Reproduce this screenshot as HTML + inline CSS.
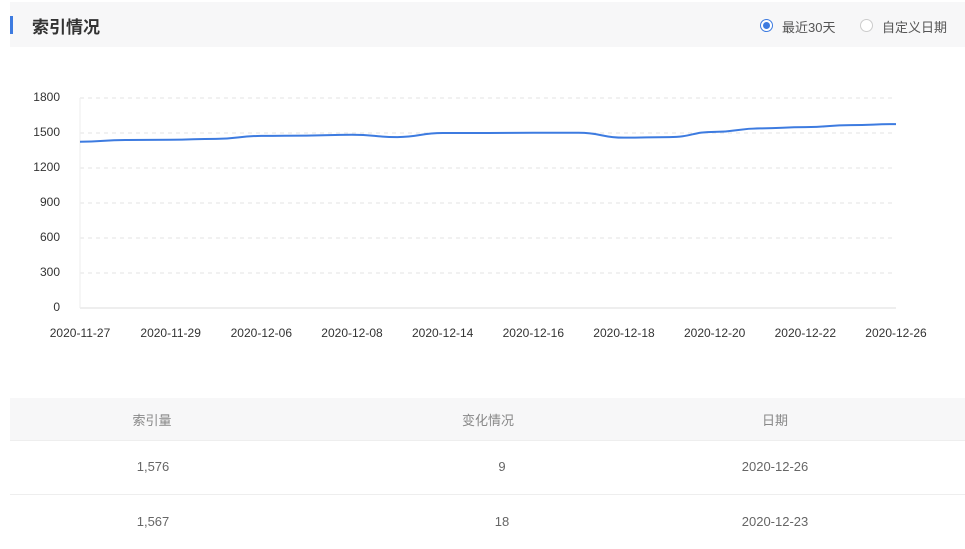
<!DOCTYPE html>
<html><head><meta charset="utf-8"><style>
body{margin:0;width:965px;height:549px;background:#fff;font-family:"Liberation Sans","Noto Sans CJK SC",sans-serif;position:relative;overflow:hidden}
.abs{position:absolute}
.hdr{left:10px;top:2px;width:955px;height:45px;background:#f7f7f8}
.bar{left:10px;top:16px;width:3px;height:18px;background:#3d7be0}
.title{left:32px;top:13px;font-size:17px;font-weight:bold;color:#333}
.radio{top:19px;width:13px;height:13px;border-radius:50%;border:1px solid #ccc;background:#fff;box-sizing:border-box}
.rl{top:17px;font-size:13px;color:#555}
.th{top:398px;left:10px;width:955px;height:42px;background:#f7f7f8;border-bottom:1px solid #eee}
.cell{font-size:13px;color:#666;transform:translateX(-50%)}
.line{left:10px;width:955px;height:1px;background:#eee}
</style></head><body>
<div class="abs hdr"></div>
<div class="abs bar"></div>
<div class="abs title">索引情况</div>
<div class="abs radio" style="left:760px;border-color:#3d7be0"><div style="width:7px;height:7px;border-radius:50%;background:#3d7be0;margin:2px"></div></div>
<div class="abs rl" style="left:782px">最近30天</div>
<div class="abs radio" style="left:860px"></div>
<div class="abs rl" style="left:882px">自定义日期</div>

<svg class="abs" style="left:0;top:0" width="965" height="360" id="chart"></svg>

<div class="abs th"></div>
<div class="abs cell" style="left:152px;top:410px;color:#888">索引量</div>
<div class="abs cell" style="left:488px;top:410px;color:#888">变化情况</div>
<div class="abs cell" style="left:775px;top:410px;color:#888">日期</div>
<div class="abs cell" style="left:153px;top:459px">1,576</div>
<div class="abs cell" style="left:502px;top:459px">9</div>
<div class="abs cell" style="left:775px;top:459px">2020-12-26</div>
<div class="abs line" style="top:494px"></div>
<div class="abs cell" style="left:153px;top:514px">1,567</div>
<div class="abs cell" style="left:502px;top:514px">18</div>
<div class="abs cell" style="left:775px;top:514px">2020-12-23</div>

<script>
const xLabels=["2020-11-27","2020-11-29","2020-12-06","2020-12-08","2020-12-14","2020-12-16","2020-12-18","2020-12-20","2020-12-22","2020-12-26"];
const yTicks=[0,300,600,900,1200,1500,1800];
const values=[1425,1440,1442,1450,1475,1478,1485,1465,1500,1500,1502,1502,1460,1465,1510,1540,1550,1567,1576];
const NS="http://www.w3.org/2000/svg";
const svg=document.getElementById('chart');
const x0=80,x1=896,y0=308,y1=98;
const yS=v=>y0-(v/1800)*(y0-y1);
const xS=i=>x0+i*(x1-x0)/(values.length-1);
const xL=i=>x0+i*(x1-x0)/(xLabels.length-1);
function mk(t,a){const e=document.createElementNS(NS,t);for(const k in a)e.setAttribute(k,a[k]);svg.appendChild(e);return e;}
yTicks.forEach(v=>{
  if(v>0){const g=mk('line',{x1:x0,x2:x1,y1:yS(v),y2:yS(v),stroke:'#e3e3e3','stroke-dasharray':'4,4'});
  
  }
  const t=mk('text',{x:60,y:yS(v)+3,'text-anchor':'end','font-size':12,fill:'#333','font-family':'Liberation Sans, sans-serif'});
  t.textContent=v;
  
  
});
const ax=mk('line',{x1:x0,x2:x1,y1:y0,y2:y0,stroke:'#ddd'});


const ay=mk('line',{x1:x0,x2:x0,y1:y1,y2:y0,stroke:'#eee'});


xLabels.forEach((l,i)=>{
  const t=mk('text',{x:xL(i),y:337,'text-anchor':'middle','font-size':12,fill:'#333','font-family':'Liberation Sans, sans-serif'});
  t.textContent=l;
  
  
});
let d='';
const pts=values.map((v,i)=>[xS(i),yS(v)]);
pts.forEach((p,i)=>{
  if(i===0){d+=`M${p[0]},${p[1]}`;return;}
  const pr=pts[i-1],mx=(pr[0]+p[0])/2;
  d+=` C${mx},${pr[1]} ${mx},${p[1]} ${p[0]},${p[1]}`;
});
const ln=mk('path',{d:d,fill:'none',stroke:'#3d7be0','stroke-width':2});


</script>
</body></html>
